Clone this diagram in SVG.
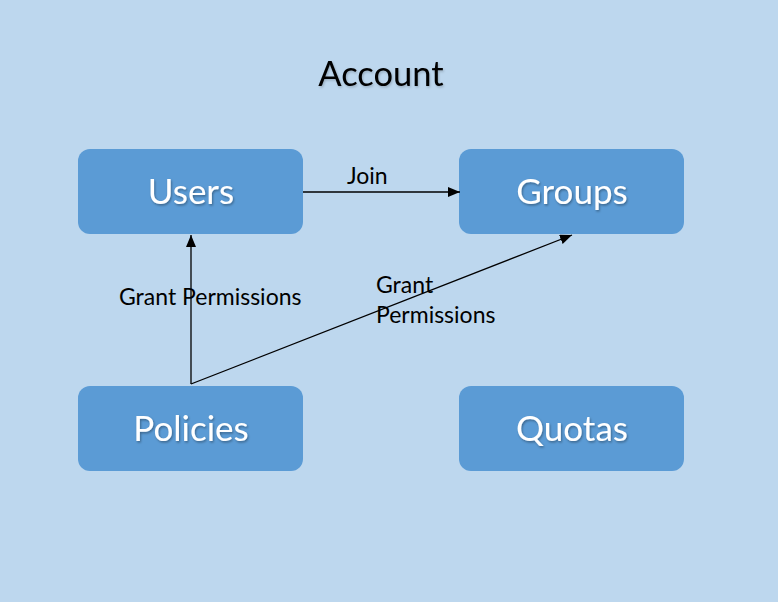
<svg xmlns="http://www.w3.org/2000/svg" width="778" height="602" viewBox="0 0 778 602">
<defs>
<style>
.box{fill:#5B9BD5;}
.lbl{font-family:Lato,"Open Sans","Liberation Sans",sans-serif;font-size:35px;fill:#fff;text-anchor:middle;filter:url(#sh);}
.title{font-family:Lato,"Open Sans","Liberation Sans",sans-serif;font-size:34.5px;fill:#000;text-anchor:middle;filter:url(#sh2);}
.cl{font-family:Lato,"Open Sans","Liberation Sans",sans-serif;font-size:23px;fill:#000;}
.ln{stroke:#000;stroke-width:1.3;fill:none;}
</style>
<filter id="sh" x="-10%" y="-20%" width="130%" height="150%"><feDropShadow dx="1" dy="1.5" stdDeviation="1" flood-color="#000" flood-opacity="0.35"/></filter>
<filter id="sh2" x="-10%" y="-20%" width="130%" height="150%"><feDropShadow dx="1" dy="1.5" stdDeviation="1" flood-color="#000" flood-opacity="0.2"/></filter>
<marker id="ar" markerWidth="12" markerHeight="10" refX="12" refY="5" orient="auto" markerUnits="userSpaceOnUse"><path d="M0,0 L12,5 L0,10 Z" fill="#000"/></marker>
</defs>
<rect width="778" height="602" fill="#BDD7EE"/>
<text class="title" x="381" y="86">Account</text>
<g id="users"><rect class="box" x="78" y="149" width="225" height="85" rx="12"/><text class="lbl" x="191" y="204">Users</text></g>
<g id="groups"><rect class="box" x="459" y="149" width="225" height="85" rx="12"/><text class="lbl" x="572" y="204">Groups</text></g>
<g id="policies"><rect class="box" x="78" y="386" width="225" height="85" rx="12"/><text class="lbl" x="191" y="441">Policies</text></g>
<g id="quotas"><rect class="box" x="459" y="386" width="225" height="85" rx="12"/><text class="lbl" x="572" y="441">Quotas</text></g>
<g id="connectors">
<line class="ln" x1="303" y1="192" x2="460" y2="192" marker-end="url(#ar)"/>
<line class="ln" x1="191" y1="384" x2="191" y2="235" marker-end="url(#ar)"/>
<line class="ln" x1="191" y1="384" x2="572" y2="235" marker-end="url(#ar)"/>
<text class="cl" x="347" y="184">Join</text>
<text class="cl" x="119" y="305">Grant Permissions</text>
<text class="cl" x="376" y="293">Grant</text>
<text class="cl" x="376" y="323">Permissions</text>
</g>
</svg>
